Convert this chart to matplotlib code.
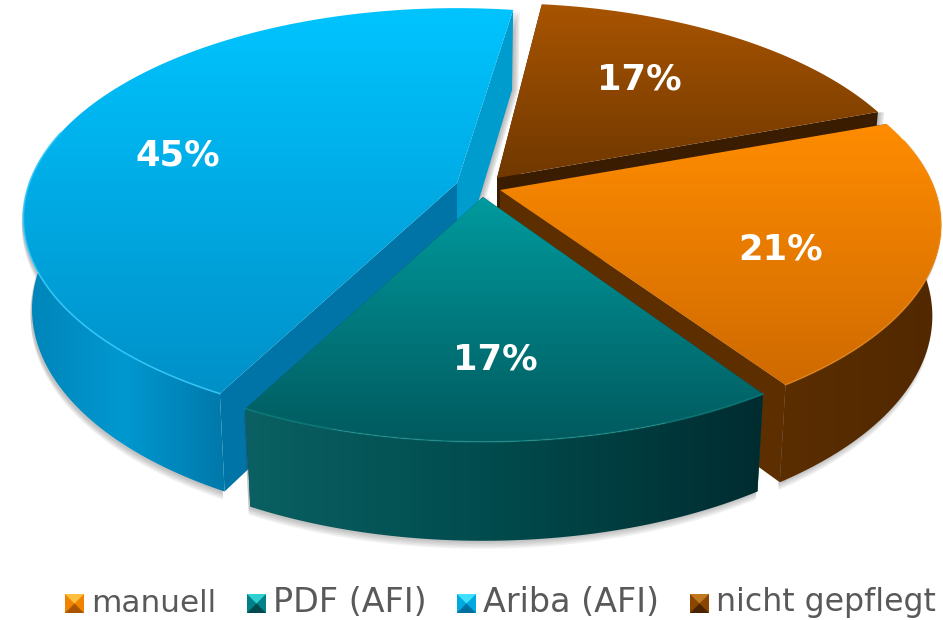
import matplotlib
matplotlib.use("Agg")
import matplotlib.pyplot as plt
import numpy as np
from matplotlib.colors import LinearSegmentedColormap
from matplotlib.patches import Polygon

categories = ["manuell", "PDF (AFI)", "Ariba (AFI)", "nicht gepflegt"]
values = [21.2, 17.2, 44.6, 17.0]
labels = ["21%", "17%", "45%", "17%"]

W, H = 943, 620
A, B, P = 435.0, 204.0, 1 / 6
DEPTH_FRONT, DEPTH_BACK = 99, 80
BOTTOM_SCALE = 0.98
START = 70.0

apex = {"manuell": (500, 190), "PDF (AFI)": (483, 197), "Ariba (AFI)": (457, 183), "nicht gepflegt": (497, 178)}
width_scale = {"manuell": 1.0, "PDF (AFI)": 1.0, "Ariba (AFI)": 0.983, "nicht gepflegt": 0.985}
# small corrections for what the simple projection misses (degrees at start, end)
nudge = {"manuell": (0, -0.8), "PDF (AFI)": (0, -0.5), "Ariba (AFI)": (0, 0), "nicht gepflegt": (-1.8, 0)}
label_pos = {"manuell": (781, 250), "PDF (AFI)": (495, 359), "Ariba (AFI)": (178, 156), "nicht gepflegt": (639, 80)}
legend_x = [65, 247, 457, 690]
legend_size = [22.4, 24, 24, 22.7]
top_cols = {
    "manuell": ("#ff8c00", "#cf6a00"),
    "PDF (AFI)": ("#009a9e", "#005a5e"),
    "Ariba (AFI)": ("#00c4ff", "#0090c8"),
    "nicht gepflegt": ("#a85400", "#703800"),
}
side_cols = {
    "manuell": ("#5a2e00", "#522800"),
    "PDF (AFI)": ("#0a6062", "#004a4c", "#002c30"),
    "Ariba (AFI)": ("#0084b8", "#0098d0", "#0078aa"),
}
# first cut face is the clockwise start of the slice, second the end
wall_cols = {
    "manuell": ("#3c1e00", "#5c2e00"),
    "PDF (AFI)": ("#004a4e", "#004a4e"),
    "Ariba (AFI)": ("#0074a6", "#009cce"),
    "nicht gepflegt": ("#3c1e00", "#3a1c00"),
}
rim_cols = {"manuell": "#ff9a20", "PDF (AFI)": "#1a9a96", "Ariba (AFI)": "#38ccff"}
rim_alpha = {"manuell": 0.4, "PDF (AFI)": 0.45, "Ariba (AFI)": 0.8}
legend_cols = {
    "manuell": ("#ffc040", "#f08400", "#a85400"),
    "PDF (AFI)": ("#30d0d0", "#008088", "#004a50"),
    "Ariba (AFI)": ("#40e0ff", "#00a8e0", "#0070a0"),
    "nicht gepflegt": ("#c07820", "#8a4600", "#4a2400"),
}


def project(ang, scale=1.0):
    # ang is clockwise from north, the back of the disc shrinks a bit
    x = np.sin(np.radians(ang))
    y = np.cos(np.radians(ang))
    w = 1 + P * y
    return A * scale * x / w, -B * y / w


def drop(pts, cx, ang):
    # bottom edge of a wall: a bit narrower, and shorter towards the back
    pts = np.asarray(pts, dtype=float)
    d = DEPTH_BACK + (DEPTH_FRONT - DEPTH_BACK) * (1 - np.cos(np.radians(ang))) / 2
    return np.column_stack([cx + (pts[:, 0] - cx) * BOTTOM_SCALE, pts[:, 1] + d])


def gradient(ax, poly, cols, horizontal=False):
    cmap = LinearSegmentedColormap.from_list("g", list(cols))
    xs, ys = poly[:, 0], poly[:, 1]
    g = np.linspace(0, 1, 256)
    g = g.reshape(1, -1) if horizontal else g.reshape(-1, 1)
    im = ax.imshow(g, cmap=cmap, extent=(xs.min(), xs.max(), ys.max(), ys.min()), aspect="auto", zorder=ax.zo)
    patch = Polygon(poly, closed=True, transform=ax.transData, fc="none", ec="none")
    ax.add_patch(patch)
    im.set_clip_path(patch)
    ax.zo += 1


fig = plt.figure(figsize=(W / 100, H / 100), dpi=100)
ax = fig.add_axes([0, 0, 1, 1])
ax.zo = 1

angles = {}
a0 = START
for name, v in zip(categories, values):
    angles[name] = (a0 + nudge[name][0], a0 + v * 3.6 + nudge[name][1])
    a0 += v * 3.6

for name in ["Ariba (AFI)", "nicht gepflegt", "manuell", "PDF (AFI)"]:
    a, b = angles[name]
    cx, cy = apex[name]
    t = np.linspace(a, b, 200)
    px, py = project(t, width_scale[name])
    rim = np.column_stack([px + cx, py + cy])

    # outer side, the part facing the viewer plus a little past the widest point
    m = (t % 360 > 75) & (t % 360 < 285)
    has_side = m.any()
    if has_side:
        front = rim[m]
        low = drop(front, cx, t[m])
        side = np.vstack([front, low[::-1]])
        # soft shadow under the side
        for i in range(1, 6):
            ax.add_patch(Polygon(side + [-1.5, i * 1.6], closed=True, fc="#404040", ec="none", alpha=0.07, zorder=ax.zo))
        ax.zo += 1

    # cut faces
    for end, col in zip((0, -1), wall_cols[name]):
        low_rim = drop(rim[[end]], cx, t[end])[0]
        low_apex = [cx, cy + (DEPTH_FRONT + DEPTH_BACK) / 2]
        wall = np.array([[cx, cy], rim[end], low_rim, low_apex])
        if end == -1:
            for i in range(1, 5):
                ax.add_patch(Polygon(wall + [i * 1.6, 0], closed=True, fc="#808080", ec="none", alpha=0.16, zorder=ax.zo))
        ax.add_patch(Polygon(wall, closed=True, fc=col, ec="none", zorder=ax.zo))
        ax.zo += 1

    if has_side:
        gradient(ax, side, side_cols[name], horizontal=True)
    top = np.vstack([[cx, cy], rim])
    gradient(ax, top, top_cols[name])
    # light edge along the front of the rim
    if has_side:
        ax.plot(front[:, 0], front[:, 1], color=rim_cols[name], lw=1.2, alpha=rim_alpha[name], zorder=ax.zo)
        ax.zo += 1

for name, lab in zip(categories, labels):
    x, y = label_pos[name]
    ax.text(x, y, lab, color="white", fontsize=25.5, fontweight="bold", ha="center", va="center", zorder=ax.zo + 1)

# legend along the bottom, little bevelled squares
S = 19
for name, x, fs in zip(categories, legend_x, legend_size):
    hi, mid, lo = legend_cols[name]
    y0, y1 = 594, 594 + S
    xc, yc = x + S / 2, y0 + S / 2
    ax.add_patch(Polygon([[x, y0], [x + S, y0], [x + S, y1], [x, y1]], closed=True, fc=mid, ec="none", zorder=ax.zo))
    ax.add_patch(Polygon([[x, y0], [x + S, y0], [xc, yc]], closed=True, fc=hi, ec="none", zorder=ax.zo))
    ax.add_patch(Polygon([[x, y1], [x + S, y1], [xc, yc]], closed=True, fc=lo, ec="none", zorder=ax.zo))
    ax.text(x + 26, 603, name, color="#595959", fontsize=fs, ha="left", va="center", zorder=ax.zo)

ax.set_xlim(0, W)
ax.set_ylim(H, 0)
ax.axis("off")
fig.savefig("out.png", dpi=100)
